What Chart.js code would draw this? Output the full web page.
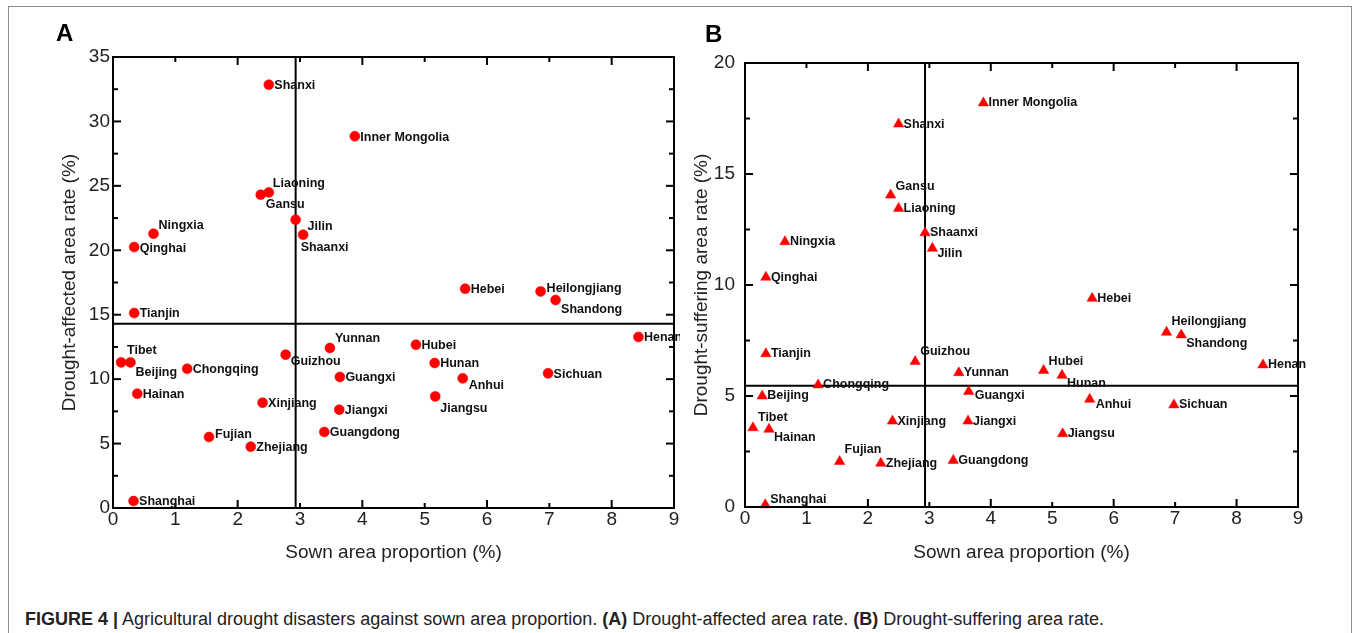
<!DOCTYPE html>
<html>
<head>
<meta charset="utf-8">
<script src="https://cdn.jsdelivr.net/npm/chart.js@4.4.1/dist/chart.umd.min.js"></script>
<style>
  html, body { margin: 0; padding: 0; background: #fff; }
  body { width: 1356px; height: 633px; position: relative; overflow: hidden;
         font-family: "Liberation Sans", Arial, Helvetica, sans-serif; }
  #frame { position: absolute; left: 8px; top: 6px; width: 1344px; height: 700px;
           border: 1px solid #8c8c8c; box-sizing: border-box; }
  .wrap { position: absolute; top: 0; }
  #wrapA { left: 0; width: 680px; height: 564px; }
  #wrapB { left: 680px; width: 676px; height: 564px; }
  .panel { position: absolute; font-weight: bold; font-size: 24px; line-height: 24px; color: #000; }
  #caption { position: absolute; left: 25px; top: 609px; font-size: 18px; line-height: 20px;
             white-space: nowrap; color: #222; }
</style>
</head>
<body>
<div id="frame"></div>
<div class="wrap" id="wrapA"><canvas id="chartA" width="680" height="564"></canvas></div>
<div class="wrap" id="wrapB"><canvas id="chartB" width="676" height="564"></canvas></div>
<div class="panel" style="left:56px;top:21px;">A</div>
<div class="panel" style="left:705px;top:22px;">B</div>
<div id="caption"><b>FIGURE 4 |</b> Agricultural drought disasters against sown area proportion. <b>(A)</b> Drought-affected area rate. <b>(B)</b> Drought-suffering area rate.</div>

<script>
// Provinces and their values (%)
const provinces = ['Beijing','Tianjin','Hebei','Shanxi','Inner Mongolia','Liaoning','Jilin','Heilongjiang',
  'Shanghai','Jiangsu','Zhejiang','Anhui','Fujian','Jiangxi','Shandong','Henan','Hubei','Hunan',
  'Guangdong','Guangxi','Hainan','Chongqing','Sichuan','Guizhou','Yunnan','Tibet','Shaanxi','Gansu',
  'Qinghai','Ningxia','Xinjiang'];

const sownShare = [0.28, 0.34, 5.65, 2.50, 3.88, 2.50, 3.05, 6.86,
  0.33, 5.17, 2.21, 5.61, 1.54, 3.63, 7.10, 8.43, 4.86, 5.16,
  3.39, 3.64, 0.39, 1.19, 6.98, 2.77, 3.48, 0.13, 2.93, 2.37,
  0.34, 0.65, 2.40];

const affectedRate = [11.30, 15.13, 17.02, 32.85, 28.85, 24.49, 21.21, 16.81,
  0.54, 8.66, 4.76, 10.06, 5.51, 7.63, 16.14, 13.27, 12.67, 11.25,
  5.90, 10.17, 8.87, 10.81, 10.45, 11.90, 12.42, 11.30, 22.37, 24.31,
  20.25, 21.29, 8.17];

const sufferingRate = [5.00, 6.90, 9.40, 17.25, 18.20, 13.45, 11.65, 7.87,
  0.10, 3.30, 1.97, 4.85, 2.05, 3.87, 7.75, 6.40, 6.15, 5.93,
  2.10, 5.20, 3.50, 5.50, 4.60, 6.55, 6.05, 3.57, 12.35, 14.05,
  10.35, 11.95, 3.87];

// Reference (dividing) lines
const medianSown = 2.93;
const affectedRef = 14.3;
const sufferingRef = 5.46;

// Axis tick values
const xTicks = [0, 1, 2, 3, 4, 5, 6, 7, 8, 9];
const xMajorMarks = [0, 2, 4, 6, 8];
const xMinorMarks = [1, 3, 5, 7, 9];
const yTicksA = [0, 5, 10, 15, 20, 25, 30, 35];
const yTicksB = [0, 5, 10, 15, 20];

const FONT = '"Liberation Sans", Arial, Helvetica, sans-serif';

// Label placement around each marker: [dx to text start, dy to text centre]
const labelOffsetsA = {
  'Liaoning': [4, -9], 'Gansu': [5, 10], 'Ningxia': [5, -8],
  'Shaanxi': [5, 28], 'Jilin': [4.5, -8.5],
  'Heilongjiang': [6, -3], 'Shandong': [5.5, 9.5],
  'Tibet': [6, -12], 'Beijing': [5, 10], 'Guizhou': [5, 7],
  'Yunnan': [5, -9], 'Anhui': [6, 7.5], 'Jiangsu': [5, 12.5], 'Fujian': [6, -2]
};
const labelOffsetsB = {
  'Gansu': [5, -8.5], 'Jilin': [5, 5.5], 'Guizhou': [5, -10.5], 'Guangxi': [6, 3.5],
  'Tibet': [5, -10.5], 'Hainan': [5, 8.5], 'Fujian': [5, -11.5], 'Shanghai': [5, -5.5],
  'Heilongjiang': [5, -10.5], 'Shandong': [5, 8.5], 'Hubei': [5, -8.5], 'Hunan': [5, 8.5],
  'Anhui': [6, 5.5]
};

// Box frame with inward ticks on all four sides
const frameTicks = {
  id: 'frameTicks',
  afterDatasetsDraw(chart, args, opts) {
    const {ctx, chartArea: a, scales: {x, y}} = chart;
    ctx.save();
    ctx.strokeStyle = '#000';
    ctx.lineWidth = 2;
    ctx.strokeRect(a.left, a.top, a.right - a.left, a.bottom - a.top);
    const seg = (x1, y1, x2, y2) => { ctx.beginPath(); ctx.moveTo(x1, y1); ctx.lineTo(x2, y2); ctx.stroke(); };
    opts.xMajor.forEach(v => { const p = x.getPixelForValue(v); seg(p, a.bottom, p, a.bottom - 8); seg(p, a.top, p, a.top + 8); });
    opts.xMinor.forEach(v => { const p = x.getPixelForValue(v); seg(p, a.bottom, p, a.bottom - 5); seg(p, a.top, p, a.top + 5); });
    opts.yMajor.forEach(v => { const p = y.getPixelForValue(v); seg(a.left, p, a.left + 8, p); seg(a.right, p, a.right - 8, p); });
    opts.yMinor.forEach(v => { const p = y.getPixelForValue(v); seg(a.left, p, a.left + 5, p); seg(a.right, p, a.right - 5, p); });
    ctx.restore();
  }
};

// Province names next to the markers
const pointLabels = {
  id: 'pointLabels',
  afterDatasetsDraw(chart, args, opts) {
    const {ctx} = chart;
    const meta = chart.getDatasetMeta(0);
    ctx.save();
    ctx.font = 'bold 12.5px ' + FONT;
    ctx.fillStyle = '#111';
    ctx.textAlign = 'left';
    ctx.textBaseline = 'middle';
    meta.data.forEach((pt, i) => {
      const name = provinces[i];
      const off = opts.offsets[name] || opts.fallback;
      ctx.fillText(name, pt.x + off[0], pt.y + off[1]);
    });
    ctx.restore();
  }
};

function buildChart(canvasId, cfg) {
  const points = provinces.map((p, i) => ({x: sownShare[i], y: cfg.values[i]}));
  const yMinor = [];
  for (let v = 2.5; v < cfg.yMax; v += 5) yMinor.push(v);
  return new Chart(document.getElementById(canvasId), {
    type: 'scatter',
    data: {
      datasets: [
        {
          data: points,
          pointStyle: cfg.pointStyle,
          pointRadius: cfg.radius,
          pointHoverRadius: cfg.radius,
          backgroundColor: '#ff0000',
          borderColor: '#ff0000',
          borderWidth: 0.5,
          clip: false
        },
        {
          type: 'line',
          data: [{x: medianSown, y: 0}, {x: medianSown, y: cfg.yMax}],
          borderColor: '#000', borderWidth: 2, pointRadius: 0, showLine: true
        },
        {
          type: 'line',
          data: [{x: 0, y: cfg.refY}, {x: 9, y: cfg.refY}],
          borderColor: '#000', borderWidth: 2, pointRadius: 0, showLine: true
        }
      ]
    },
    options: {
      responsive: false,
      animation: false,
      devicePixelRatio: 1,
      layout: {padding: cfg.padding},
      plugins: {
        legend: {display: false},
        tooltip: {enabled: false},
        frameTicks: {xMajor: xMajorMarks, xMinor: xMinorMarks, yMajor: cfg.yTicks, yMinor: yMinor},
        pointLabels: {offsets: cfg.offsets, fallback: cfg.fallback}
      },
      scales: {
        x: {
          type: 'linear', min: 0, max: 9,
          afterBuildTicks: s => { s.ticks = xTicks.map(v => ({value: v})); },
          afterFit: s => { s.height = cfg.xHeight; },
          grid: {display: false, drawTicks: false},
          border: {display: false},
          ticks: {padding: 0, color: '#222', font: {family: FONT, size: 19}},
          title: {display: true, text: 'Sown area proportion (%)', color: '#222',
                  font: {family: FONT, size: 19}, padding: {top: 0, bottom: 0}}
        },
        y: {
          type: 'linear', min: 0, max: cfg.yMax,
          afterBuildTicks: s => { s.ticks = cfg.yTicks.map(v => ({value: v})); },
          afterFit: s => { s.width = cfg.yWidth; },
          grid: {display: false, drawTicks: false},
          border: {display: false},
          ticks: {padding: cfg.yPad, color: '#222', font: {family: FONT, size: 19}},
          title: {display: true, text: cfg.yTitle, color: '#222',
                  font: {family: FONT, size: 19}, padding: {top: cfg.yTitlePad, bottom: 0}}
        }
      }
    },
    plugins: [frameTicks, pointLabels]
  });
}

buildChart('chartA', {
  values: affectedRate, yMax: 35, yTicks: yTicksA, refY: affectedRef,
  pointStyle: 'circle', radius: 5,
  padding: {left: 0, top: 57, right: 6, bottom: 0},
  xHeight: 56, yWidth: 113, yPad: 3, yTitlePad: 58.6,
  yTitle: 'Drought-affected area rate (%)',
  offsets: labelOffsetsA, fallback: [5.5, 1]
});

buildChart('chartB', {
  values: sufferingRate, yMax: 20, yTicks: yTicksB, refY: sufferingRef,
  pointStyle: 'triangle', radius: 6,
  padding: {left: 0, top: 63, right: 58, bottom: 0},
  xHeight: 57, yWidth: 65, yPad: 10, yTitlePad: 10.6,
  yTitle: 'Drought-suffering area rate (%)',
  offsets: labelOffsetsB, fallback: [5, 0]
});
</script>
</body>
</html>
